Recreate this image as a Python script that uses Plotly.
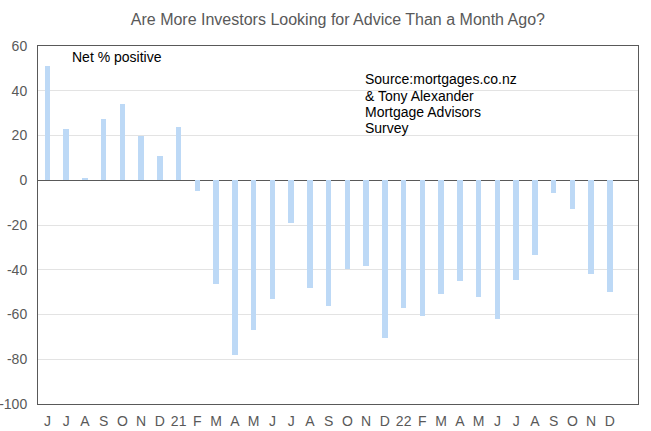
import plotly.graph_objects as go

months = ["J", "J", "A", "S", "O", "N", "D", "21", "F", "M", "A", "M", "J", "J", "A", "S",
          "O", "N", "D", "22", "F", "M", "A", "M", "J", "J", "A", "S", "O", "N", "D"]
net_positive = [51, 23, 1, 27.5, 34, 20, 11, 24, -5, -46.5, -78, -67, -53, -19, -48, -56,
                -39.5, -38.5, -70.5, -57, -60.5, -51, -45, -52, -62, -44.5, -33.5, -5.5, -13, -42, -50]
y_ticks = [-100, -80, -60, -40, -20, 0, 20, 40, 60]
y_tick_text = [str(v) for v in y_ticks]
source_lines = ["Source:mortgages.co.nz", "& Tony Alexander", "Mortgage Advisors", "Survey"]

x_idx = list(range(len(months)))

fig = go.Figure()
fig.add_trace(go.Bar(
    x=x_idx, y=net_positive, width=0.3,
    marker=dict(color="#BDD9F6", line=dict(width=0)),
    hoverinfo="skip",
))

font_family = "Liberation Sans, Arial, sans-serif"
fig.update_layout(
    width=651, height=431,
    margin=dict(l=38, r=13, t=46, b=27, autoexpand=False),
    paper_bgcolor="white", plot_bgcolor="white",
    showlegend=False,
    font=dict(family=font_family, color="#595959", size=14),
    title=dict(text="Are More Investors Looking for Advice Than a Month Ago?",
               x=0.519, xanchor="center", y=0.954, yanchor="middle",
               automargin=False,
               font=dict(size=16, color="#595959", family=font_family)),
    bargap=0,
)
fig.update_xaxes(
    range=[-0.5, len(months) + 0.5], automargin=False,
    tickmode="array", tickvals=x_idx, ticktext=months,
    showgrid=False, zeroline=False,
    showline=True, linecolor="#595959", linewidth=1, mirror=True,
    ticks="", ticklabelstandoff=4, tickfont=dict(size=14, color="#595959"),
)
fig.update_yaxes(
    range=[-100, 60], automargin=False, tickmode="array",
    tickvals=y_ticks, ticktext=y_tick_text,
    showgrid=True, gridcolor="#E3E3E3", gridwidth=1,
    zeroline=True, zerolinecolor="#595959", zerolinewidth=1,
    showline=True, linecolor="#595959", linewidth=1, mirror=True,
    ticks="", ticklabelstandoff=7, tickfont=dict(size=14, color="#595959"),
)
fig.add_annotation(
    text="Net % positive", xref="paper", yref="paper", x=0.0533, y=0.969,
    xanchor="left", yanchor="middle", showarrow=False,
    font=dict(size=14, color="black", family=font_family),
)
for line, yp in zip(source_lines, [0.908, 0.861, 0.816, 0.771]):
    fig.add_annotation(
        text=line.replace("&", "&amp;"), xref="paper", yref="paper", x=0.541, y=yp,
        xanchor="left", yanchor="middle", align="left", showarrow=False,
        font=dict(size=14, color="black", family=font_family),
    )
fig.write_html("out.html", config={"displayModeBar": False},
               post_script="document.body.style.margin='0px';")
